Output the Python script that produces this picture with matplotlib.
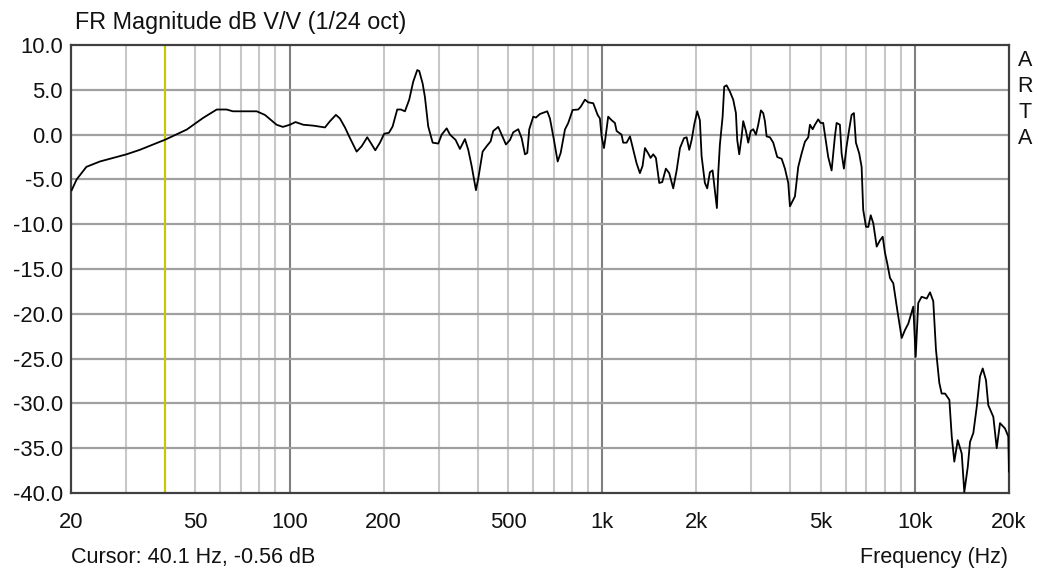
import matplotlib
matplotlib.use('Agg')
import matplotlib.pyplot as plt
import numpy as np

plt.rcParams['font.family'] = ['Liberation Sans', 'DejaVu Sans']

# frequency response (Hz, dB)
freq = [20.1, 20.85, 22.4, 24.75, 30.1, 33.2, 40.05, 46.9, 52.9, 58.5, 62.9, 65.9,
        78.5, 83.4, 90.9, 95.2, 100.2, 104.5, 110.6, 119.1, 129.8, 134.7, 140.7, 144.9,
        150.4, 156.1, 163.9, 170.1, 177.2, 181.7, 188.0, 194.6, 200.8, 207.9, 213.6,
        221.0, 227.1, 233.9, 241.4, 248.6, 256.1, 259.9, 266.5, 271.0, 277.7, 286.9,
        299.0, 306.6, 318.1, 325.9, 339.8, 350.7, 363.9, 372.9, 382.3, 394.6, 401.4,
        414.5, 426.9, 439.7, 448.2, 465.0, 476.8, 492.1, 506.9, 519.4, 538.9, 552.6,
        566.2, 575.9, 584.4, 601.9, 613.8, 632.2, 667.1, 680.5, 700.9, 720.3, 736.4,
        760.0, 778.7, 804.3, 838.3, 853.2, 880.7, 902.3, 936.2, 966.7, 983.2, 995.6,
        1013, 1022, 1045, 1072, 1098, 1112, 1153, 1167, 1197, 1227, 1257, 1288, 1320,
        1346, 1370, 1403, 1428, 1456, 1485, 1522, 1556, 1598, 1638, 1687, 1730, 1773,
        1826, 1862, 1898, 1932, 1969, 2013, 2053, 2079, 2130, 2167, 2210, 2254, 2276,
        2327, 2350, 2379, 2427, 2456, 2499, 2561, 2624, 2677, 2703, 2743, 2792, 2825,
        2882, 2931, 2984, 3041, 3102, 3155, 3218, 3273, 3314, 3356, 3439, 3524, 3629,
        3749, 3841, 3936, 3985, 4134, 4236, 4343, 4450, 4560, 4617, 4710, 4790, 4907,
        4995, 5091, 5156, 5282, 5416, 5549, 5620, 5757, 5830, 5929, 6048, 6166, 6275,
        6383, 6478, 6637, 6755, 6835, 6979, 7097, 7224, 7362, 7549, 7734, 7890, 8025,
        8162, 8326, 8531, 8786, 9075, 9300, 9526, 9883, 10060, 10250, 10510, 10910,
        11180, 11450, 11680, 11970, 12180, 12490, 12890, 13120, 13370, 13710, 14120,
        14390, 14760, 15010, 15380, 15770, 16150, 16480, 16880, 17170, 17820, 18270,
        18720, 19420, 19900, 20000]
mag_db = [-6.2, -5.0, -3.6, -3.0, -2.2, -1.7, -0.56, 0.56, 1.86, 2.8, 2.8, 2.6,
          2.6, 2.2, 1.1, 0.86, 1.1, 1.4, 1.1, 1.0, 0.8, 1.5, 2.2, 1.8,
          0.8, -0.4, -1.9, -1.3, -0.3, -0.9, -1.75, -0.9, 0.1, 0.2, 0.9,
          2.8, 2.8, 2.6, 3.9, 5.9, 7.2, 7.1, 5.7, 4.2, 0.9, -0.9,
          -1.0, 0.0, 0.7, 0.0, -0.6, -1.6, -0.5, -1.7, -3.5, -6.2, -4.9,
          -1.9, -1.3, -0.75, 0.4, 0.86, 0.0, -1.1, -0.6, 0.26, 0.6, -0.4,
          -2.2, -2.05, 0.6, 2.0, 1.9, 2.3, 2.6, 1.8, -0.6, -3.0, -2.05,
          0.56, 1.3, 2.75, 2.8, 3.1, 3.9, 3.6, 3.5, 2.2, 1.8, -0.2,
          -1.5, -0.6, 2.0, 1.6, 1.3, 0.4, 0.0, -0.9, -0.9, -0.2, -1.7, -3.2, -4.3,
          -3.5, -1.5, -2.1, -2.6, -2.2, -2.6, -5.4, -5.3, -3.8, -4.3, -6.0, -4.0, -1.5,
          -0.4, -0.3, -1.7, -0.6, 1.1, 2.6, 1.6, -2.4, -5.4, -6.0, -4.2, -4.0, -5.3,
          -8.2, -4.3, -1.1, 2.0, 5.35, 5.5, 4.8, 3.9, 2.4, -0.6, -2.2, -0.2, 1.5,
          0.4, -0.9, 0.4, 0.6, 0.0, 1.1, 2.7, 2.4, 1.5, -0.2, -0.3, -0.9, -2.5,
          -2.7, -3.8, -5.4, -8.0, -6.9, -3.6, -2.1, -0.8, -0.3, 1.1, 0.6, 1.1, 1.7,
          1.3, 1.3, 0.0, -2.5, -4.0, -0.2, 1.3, 1.1, -2.1, -3.8, -1.3, 0.6, 2.2,
          2.4, -0.9, -2.1, -3.6, -8.4, -10.3, -10.3, -9.0, -9.9, -12.5, -11.8, -11.4, -13.2,
          -14.4, -16.0, -16.6, -19.6, -22.7, -21.8, -21.1, -19.2, -24.8, -18.8, -18.1, -18.3,
          -17.6, -18.6, -24.0, -27.7, -28.9, -28.9, -29.6, -33.7, -36.5, -34.1, -35.6,
          -39.9, -37.1, -34.3, -33.3, -30.4, -27.0, -26.1, -27.4, -30.2, -31.5, -35.0,
          -32.2, -32.8, -33.7, -37.6]

cursor_f = 40.1
cursor_db = -0.56

x_ticks = [20, 50, 100, 200, 500, 1000, 2000, 5000, 10000, 20000]
x_labels = ['20', '50', '100', '200', '500', '1k', '2k', '5k', '10k', '20k']
y_ticks = [10, 5, 0, -5, -10, -15, -20, -25, -30, -35, -40]

fig = plt.figure(figsize=(10.38, 5.71), dpi=100)
ax = fig.add_axes([71 / 1038, 1 - 493 / 571, 938 / 1038, 448 / 571])
ax.set_xscale('log')
ax.set_xlim(20, 20000)
ax.set_ylim(-40, 10)

# grid: light minor lines, darker decade lines
for dec in [10, 100, 1000, 10000]:
    for m in range(2, 10):
        f = dec * m
        if 20 < f < 20000:
            ax.axvline(f, color='#c8c8c8', lw=1.5, zorder=1)
for f in [100, 1000, 10000]:
    ax.axvline(f, color='#808080', lw=1.5, zorder=1)
for v in y_ticks[1:-1]:
    ax.axhline(v, color='#a0a0a0', lw=1.6, zorder=1)

ax.axvline(cursor_f, color='#c8c800', lw=1.5, zorder=2)
ax.plot(freq, mag_db, color='black', lw=1.3, zorder=3)

ax.set_xticks(x_ticks)
ax.set_xticklabels(x_labels)
ax.xaxis.set_minor_locator(matplotlib.ticker.NullLocator())
ax.set_yticks(y_ticks)
ax.set_yticklabels([f'{v:.1f}' for v in y_ticks])
ax.tick_params(length=0, labelsize=15.8, colors='#111111', pad=6)
ax.tick_params(axis='x', pad=14)
for s in ax.spines.values():
    s.set_color('#404040')
    s.set_linewidth(1.6)

fig.text(75 / 1038, 1 - 23 / 571, 'FR Magnitude dB V/V (1/24 oct)', fontsize=16.8,
         ha='left', va='center', color='#111111')
fig.text(71 / 1038, 1 - 557 / 571, f'Cursor: {cursor_f} Hz, {cursor_db} dB', fontsize=15.5,
         ha='left', va='center', color='#111111')
fig.text(1008 / 1038, 1 - 557 / 571, 'Frequency (Hz)', fontsize=15.5,
         ha='right', va='center', color='#111111')
for letter, yy in zip('ARTA', [60, 86, 112, 139]):
    fig.text(1025 / 1038, 1 - yy / 571, letter, fontsize=15.5, ha='center', va='center',
             color='#111111')

fig.savefig('out.png', dpi=100)
